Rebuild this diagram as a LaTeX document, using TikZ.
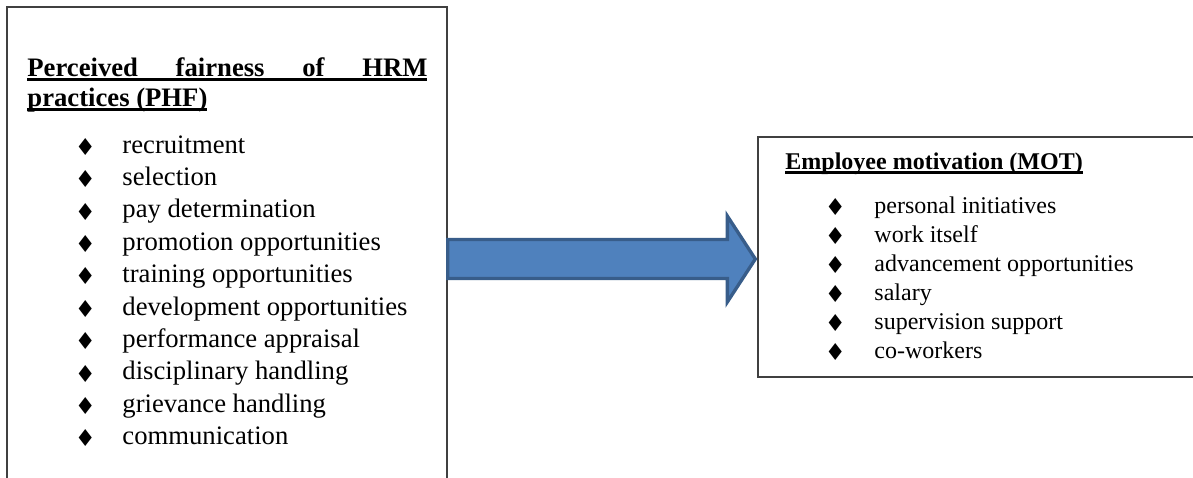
\documentclass[tikz,border=0pt]{standalone}
\usepackage{fontspec}
\setmainfont{Liberation Serif}
\newfontfamily\symfam{DejaVu Sans}
\usetikzlibrary{calc,
positioning}
\definecolor{arrowfill}{RGB}{79,129,189}
\definecolor{arrowline}{RGB}{56,93,138}
\newcommand\dia{\makebox[0pt]{\raisebox{-1pt}{\symfam\fontsize{10.5}{10.5}\selectfont\char"2666}}}
\newcommand\ulin[1]{\setbox0\hbox{#1}\rlap{\rule[-2.1pt]{\wd0}{1.1pt}}\box0}

\begin{document}
\begin{tikzpicture} [x = 0.45pt,
        y = -0.45pt,
        frame node/.style={rectangle, draw = black!75, line width = 0.6pt,
                inner sep = 0pt},
        text node/.style={anchor = base west, inner sep = 0pt},
        big arrow/.style={fill = arrowfill, draw = arrowline,
                line width = 1.5pt, line join = miter}]

    \useasboundingbox (0, 0) rectangle (1193, 477);
    \clip (0, 0) rectangle (1193, 477);

    \node [
        frame node,
        minimum width = 198pt,
        minimum height = 230.85pt
    ] (phf) at (227, 263.5) {};

    \node [
        frame node,
        minimum width = 201.15pt,
        minimum height = 108pt
    ] (mot) at (981.5, 257) {};

    \node [
        text node,
        font = \fontsize{12}{13.5}\selectfont\bfseries
    ] (phf_title) at (27, 76) {\begin{tabular}[t]{@{}l@{}}
        \ulin{\makebox[180pt][s]{Perceived fairness of HRM}}\\
        \ulin{practices (PHF)}
    \end{tabular}};

    \node [
        text node,
        font = \fontsize{12}{14.58}\selectfont
    ] (phf_list) at (85, 153) {\begin{tabular}[t]{@{}c@{\hspace{16.65pt}}l@{}}
        \dia & recruitment\\
        \dia & selection\\
        \dia & pay determination\\
        \dia & promotion opportunities\\
        \dia & training opportunities\\
        \dia & development opportunities\\
        \dia & performance appraisal\\
        \dia & disciplinary handling\\
        \dia & grievance handling\\
        \dia & communication
    \end{tabular}};

    \node [
        text node,
        font = \fontsize{10.8}{13}\selectfont\bfseries
    ] (mot_title) at (785, 169) {\ulin{Employee motivation (MOT)}};

    \node [
        text node,
        font = \fontsize{10.8}{13.05}\selectfont
    ] (mot_list) at (835, 213) {\begin{tabular}[t]{@{}c@{\hspace{17.55pt}}l@{}}
        \dia & personal initiatives\\
        \dia & work itself\\
        \dia & advancement opportunities\\
        \dia & salary\\
        \dia & supervision support\\
        \dia & co-workers
    \end{tabular}};

    \coordinate (tip) at ($(mot.west)+(-2, 2)$);
    \coordinate (tail) at (phf.east |- tip);
    \filldraw [big arrow] ($(tail)+(0, -19.5)$) -- ($(tip)+(-28, -19.5)$)
        -- ($(tip)+(-28, -43)$) -- (tip) -- ($(tip)+(-28, 43)$)
        -- ($(tip)+(-28, 19.5)$) -- ($(tail)+(0, 19.5)$) -- cycle;

\end{tikzpicture}
\end{document}
